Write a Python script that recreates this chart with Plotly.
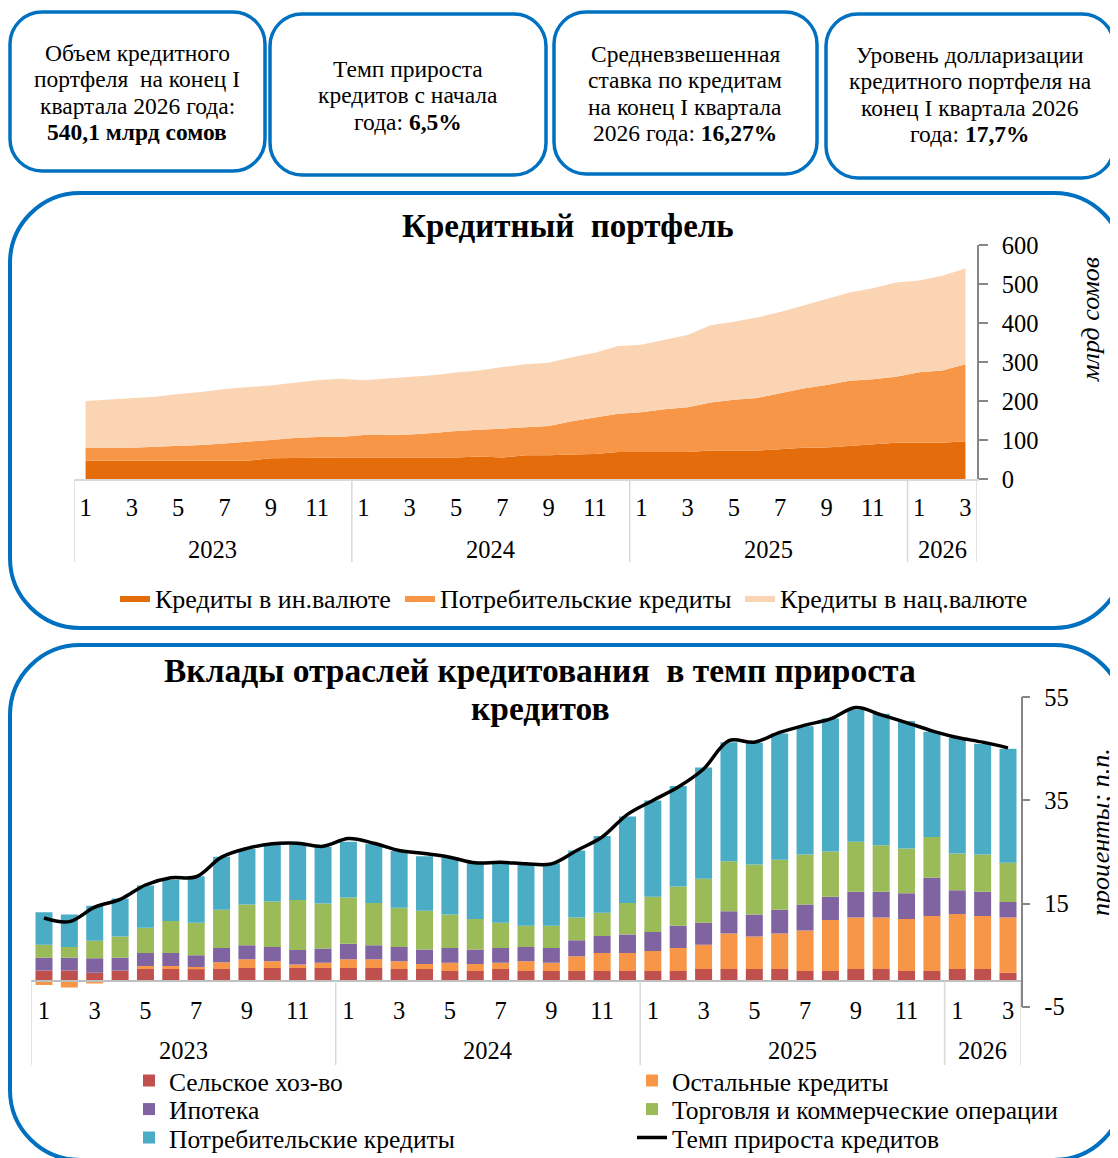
import plotly.graph_objects as go

# page offset: the browser body keeps an 8px margin, so the figure is drawn
# 8px in from the top-left corner of the 1118x1158 window
OFF = 8
W, H = 1118 - OFF, 1158 - OFF
FONT = "Liberation Serif, Times New Roman, serif"

# ---------------- data ----------------
MONTHS = ["1","2","3","4","5","6","7","8","9","10","11","12",
          "1","2","3","4","5","6","7","8","9","10","11","12",
          "1","2","3","4","5","6","7","8","9","10","11","12",
          "1","2","3"]
YEARS = ["2023", "2024", "2025", "2026"]
YEAR_LEN = [12, 12, 12, 3]
PCT_TICKS = [-5, 15, 35, 55]
PCT_TICK_LABELS = ["-5", "15", "35", "55"]

# Кредитный портфель, млрд сомов (stack layers)
FX_LOANS = [47,47,47,47,47,47,47,47,53,54,55,55,55,55,55,55,55,58,55,61,61,63,64,69,69,69,69,73,73,73,76,80,81,85,89,93,93,93,97]
CONSUMER_LOANS = [33,33,33,36,38,40,44,48,47,51,53,53,58,58,59,63,68,68,74,72,75,85,94,98,102,110,115,123,130,135,144,152,160,167,167,169,181,185,197]
NATCUR_LOANS = [120,124,127,128,133,136,140,141,140,142,145,149,140,145,148,148,150,152,158,161,162,164,166,174,173,177,185,198,200,206,208,213,220,226,233,242,235,243,246]

# Вклады отраслей, п.п.
AGRI = [2.0,2.0,1.6,2.0,2.3,2.3,2.4,2.3,2.5,2.5,2.5,2.5,2.5,2.5,2.3,2.3,1.9,1.9,2.3,1.9,1.9,1.9,1.9,1.9,1.9,1.9,2.3,2.3,2.3,2.3,1.9,1.9,2.3,2.3,1.9,1.9,2.3,2.3,1.6]
OTHER = [-0.8,-1.3,-0.5,0.0,0.6,0.6,0.3,1.3,1.7,1.3,0.7,1.0,1.7,1.7,1.5,1.0,1.6,1.4,1.2,1.9,1.6,2.9,3.5,3.5,3.9,4.5,4.7,6.9,6.3,6.9,7.9,9.9,10.0,10.0,10.1,10.7,10.7,10.3,10.7]
MORTGAGE = [2.5,2.5,2.8,2.5,2.5,2.5,2.3,2.8,2.7,2.8,2.8,2.8,3.0,2.7,2.8,2.8,2.9,2.8,2.9,2.8,2.9,3.1,3.3,3.6,3.7,4.3,4.3,4.3,4.3,4.6,5.0,4.5,5.0,5.0,5.0,7.4,4.6,4.7,3.0]
TRADE = [2.5,2.1,3.4,4.1,4.9,6.2,6.3,7.4,7.9,8.8,9.7,8.7,9.0,8.2,7.6,7.5,6.5,5.9,4.9,4.1,4.3,4.4,4.5,6.1,6.8,7.6,8.5,9.7,9.7,9.7,9.7,8.8,9.7,9.0,8.7,7.9,7.1,7.2,7.6]
CONSUMER = [6.3,6.3,6.8,7.4,8.2,8.0,9.0,10.3,10.8,11.0,10.7,11.0,10.8,11.5,11.0,10.6,11.1,10.8,11.4,11.8,12.1,13.0,14.9,16.8,18.7,19.5,21.6,23.1,23.6,24.5,24.9,25.8,25.6,25.5,24.7,20.4,22.4,21.5,22.1]
GROWTH = [12.2,11.5,14.3,15.8,18.6,20.0,20.2,24.0,25.7,26.6,26.7,26.1,27.6,26.7,25.3,24.7,24.0,22.9,23.0,22.7,22.7,25.3,27.9,32.3,35.0,37.6,41.1,46.6,46.3,48.2,49.6,50.8,53.0,51.6,50.1,48.5,47.2,46.3,45.2]

KPI_LINES = [
    ["Объем кредитного", "портфеля  на конец I", "квартала 2026 года:", "<b>540,1 млрд сомов</b>"],
    ["Темп прироста", "кредитов с начала", "года: <b>6,5%</b>"],
    ["Средневзвешенная", "ставка по кредитам", "на конец I квартала", "2026 года: <b>16,27%</b>"],
    ["Уровень долларизации", "кредитного портфеля на", "конец I квартала 2026", "года: <b>17,7%</b>"],
]

# ---------------- helpers ----------------
def X(px):
    return (px - OFF) / W

def Y(py):
    return 1 - (py - OFF) / H

def rrect(x0, y0, x1, y1, r):
    k = 0.552 * r
    p = []
    p.append(f"M{X(x0 + r)},{Y(y0)}")
    p.append(f"L{X(x1 - r)},{Y(y0)}")
    p.append(f"C{X(x1 - r + k)},{Y(y0)} {X(x1)},{Y(y0 + r - k)} {X(x1)},{Y(y0 + r)}")
    p.append(f"L{X(x1)},{Y(y1 - r)}")
    p.append(f"C{X(x1)},{Y(y1 - r + k)} {X(x1 - r + k)},{Y(y1)} {X(x1 - r)},{Y(y1)}")
    p.append(f"L{X(x0 + r)},{Y(y1)}")
    p.append(f"C{X(x0 + r - k)},{Y(y1)} {X(x0)},{Y(y1 - r + k)} {X(x0)},{Y(y1 - r)}")
    p.append(f"L{X(x0)},{Y(y0 + r)}")
    p.append(f"C{X(x0)},{Y(y0 + r - k)} {X(x0 + r - k)},{Y(y0)} {X(x0 + r)},{Y(y0)}")
    p.append("Z")
    return " ".join(p)

idx = list(range(len(MONTHS)))
tickvals = idx[::2]
ticktext = [MONTHS[i] for i in tickvals]

fig = go.Figure()

# ---------------- top: stacked area ----------------
area_specs = [
    ("Кредиты в ин.валюте", FX_LOANS, "#E46C0A", 240),
    ("Потребительские кредиты", CONSUMER_LOANS, "#F79646", 295),
    ("Кредиты в нац.валюте", NATCUR_LOANS, "#FBD4B4", None),
]
for name, vals, col, lw in area_specs:
    kw = dict(legendwidth=lw) if lw else {}
    fig.add_trace(go.Scatter(
        x=idx, y=vals, name=name, stackgroup="port", mode="lines",
        line=dict(width=0, color=col), fillcolor=col,
        xaxis="x", yaxis="y", legend="legend", **kw,
    ))

# ---------------- bottom: stacked bars + line ----------------
bar_specs = [
    ("Сельское хоз-во", AGRI, "#C0504D", "legend2", 458),
    ("Остальные кредиты", OTHER, "#F79646", "legend2", None),
    ("Ипотека", MORTGAGE, "#8064A2", "legend3", 458),
    ("Торговля и коммерческие операции", TRADE, "#9BBB59", "legend3", None),
    ("Потребительские кредиты", CONSUMER, "#4BACC6", "legend4", 458),
]
for name, vals, col, lg, lw in bar_specs:
    kw = dict(legendwidth=lw) if lw else {}
    fig.add_trace(go.Bar(
        x=idx, y=vals, name=name, marker=dict(color=col, line=dict(width=0)),
        xaxis="x2", yaxis="y2", legend=lg, **kw,
    ))
fig.add_trace(go.Scatter(
    x=idx, y=GROWTH, name="Темп прироста кредитов", mode="lines",
    line=dict(color="black", width=3.5, shape="spline"),
    xaxis="x2", yaxis="y2", legend="legend4",
))

# geometry (window pixels)
top_x0, top_x1, top_y0, top_y1 = 74, 977, 479, 245
bot_x0, bot_x1, bot_y0, bot_y1 = 31.3, 1020.7, 1006.7, 697.3
bot_zero_py = bot_y0 - (0 - (-5)) * (bot_y0 - bot_y1) / 60.0

TICK = 24.5
tickfont = dict(family=FONT, size=TICK, color="black")

def row_legend(py):
    return dict(orientation="h", x=X(129), xanchor="left", y=Y(py), yanchor="middle",
                font=dict(family=FONT, size=25.5, color="black"), bgcolor="rgba(0,0,0,0)",
                traceorder="normal")

fig.update_layout(
    width=W, height=H, autosize=False,
    margin=dict(l=0, r=0, t=0, b=0, pad=0, autoexpand=False),
    paper_bgcolor="white", plot_bgcolor="rgba(0,0,0,0)",
    font=dict(family=FONT, color="black"),
    barmode="relative", bargap=0.33,
    xaxis=dict(domain=[X(top_x0), X(top_x1)], range=[-0.5, 38.5], anchor="y",
               showline=True, linecolor="#D9D9D9", linewidth=1.5,
               tickmode="array", tickvals=tickvals, ticktext=ticktext,
               ticks="", ticklabelstandoff=6, tickfont=tickfont,
               showgrid=False, zeroline=False, automargin=False),
    yaxis=dict(domain=[Y(top_y0), Y(top_y1)], range=[0, 600], anchor="x", side="right",
               showline=True, linecolor="#868686", linewidth=1.5,
               ticks="outside", ticklen=9, tickcolor="#868686", tickwidth=1.5,
               dtick=100, tickfont=tickfont, ticklabelstandoff=9,
               showgrid=False, zeroline=False, automargin=False),
    xaxis2=dict(domain=[X(bot_x0), X(bot_x1)], range=[-0.5, 38.5], anchor="free",
                position=Y(bot_zero_py),
                showline=True, linecolor="#BFBFBF", linewidth=1.5,
                tickmode="array", tickvals=tickvals, ticktext=ticktext,
                ticks="", ticklabelstandoff=8, tickfont=tickfont,
                showgrid=False, zeroline=False, automargin=False),
    yaxis2=dict(domain=[Y(bot_y0), Y(bot_y1)], range=[-5, 55], anchor="x2", side="right",
                showline=True, linecolor="#868686", linewidth=1.5,
                ticks="outside", ticklen=8, tickcolor="#868686", tickwidth=1.5,
                tickmode="array", tickvals=PCT_TICKS, ticktext=PCT_TICK_LABELS,
                tickfont=tickfont,
                ticklabelstandoff=9, showgrid=False, zeroline=False, automargin=False),
    legend=dict(orientation="h", x=X(115), xanchor="left", y=Y(598), yanchor="middle",
                font=dict(family=FONT, size=26, color="black"), bgcolor="rgba(0,0,0,0)",
                traceorder="normal"),
    legend2=row_legend(1081),
    legend3=row_legend(1109.5),
    legend4=row_legend(1138),
    showlegend=True,
)

shapes = []
annotations = []

# panels and KPI boxes
BLUE = "#0070C0"
for (x0, y0, x1, y1, r, lw) in [
    (10, 12, 265, 171, 32, 3.5),
    (270, 14, 546, 175, 32, 3.5),
    (554, 12, 817, 174, 32, 3.5),
    (826, 14, 1114, 178, 32, 3.5),
    (10, 193, 1124, 628, 70, 4),
    (10, 645, 1124, 1160, 70, 4),
]:
    shapes.append(dict(type="path", path=rrect(x0, y0, x1, y1, r), xref="paper", yref="paper",
                       line=dict(color=BLUE, width=lw), fillcolor="rgba(0,0,0,0)", layer="below"))

# KPI texts, one annotation per line
KPI_X = [137, 408, 685, 970]
KPI_Y0 = [53, 69, 54, 55]
for lines, cx, y0 in zip(KPI_LINES, KPI_X, KPI_Y0):
    for j, ln in enumerate(lines):
        annotations.append(dict(text=ln, x=X(cx), y=Y(y0 + 26.3 * j), xref="paper", yref="paper",
                                xanchor="center", yanchor="middle", showarrow=False,
                                font=dict(family=FONT, size=23.5, color="black")))

# titles
annotations.append(dict(text="<b>Кредитный\u00a0 портфель</b>", x=X(568), y=Y(226), xref="paper", yref="paper",
                        xanchor="center", yanchor="middle", showarrow=False,
                        font=dict(family=FONT, size=33, color="black")))
for txt, py in [("<b>Вклады отраслей кредитования\u00a0 в темп прироста</b>", 670),
                ("<b>кредитов</b>", 708)]:
    annotations.append(dict(text=txt, x=X(540), y=Y(py), xref="paper", yref="paper",
                            xanchor="center", yanchor="middle", showarrow=False,
                            font=dict(family=FONT, size=33.5, color="black")))

# axis titles
annotations.append(dict(text="<i>млрд сомов</i>", x=X(1090), y=Y(320), xref="paper", yref="paper",
                        textangle=-90, showarrow=False, xanchor="center", yanchor="middle",
                        font=dict(family=FONT, size=26, color="black")))
annotations.append(dict(text="<i>проценты; п.п.</i>", x=X(1100), y=Y(832), xref="paper", yref="paper",
                        textangle=-90, showarrow=False, xanchor="center", yanchor="middle",
                        font=dict(family=FONT, size=26, color="black")))

# year groups: dividers and labels
bounds = [-0.5]
for n in YEAR_LEN:
    bounds.append(bounds[-1] + n)
for xref, ytop, ybot, ylab in [("x", top_y0, 562, 549), ("x2", bot_zero_py, 1065, 1050)]:
    for b in bounds:
        shapes.append(dict(type="line", xref=xref, yref="paper", x0=b, x1=b, y0=Y(ytop), y1=Y(ybot),
                           line=dict(color="#D9D9D9", width=1.5)))
    for i, yr in enumerate(YEARS):
        cx = (bounds[i] + bounds[i + 1]) / 2
        annotations.append(dict(text=yr, x=cx, y=Y(ylab), xref=xref, yref="paper",
                                xanchor="center", yanchor="middle", showarrow=False,
                                font=dict(family=FONT, size=TICK, color="black")))

fig.update_layout(shapes=shapes, annotations=annotations)
fig.write_html("out.html")
